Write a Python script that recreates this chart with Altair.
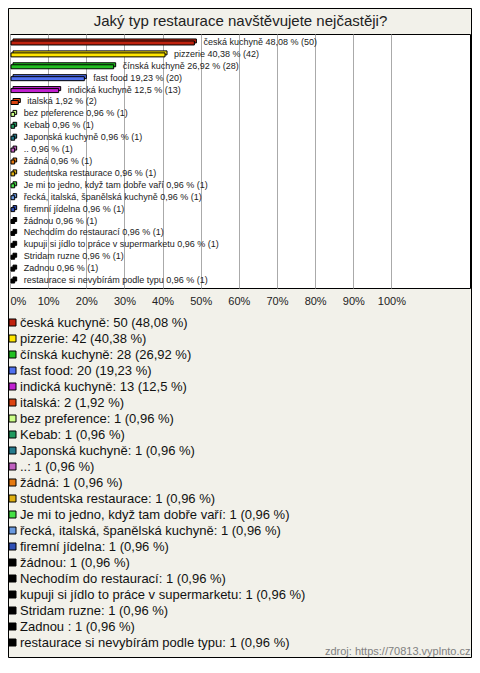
import altair as alt
import pandas as pd

title_text = "Jaký typ restaurace navštěvujete nejčastěji?"
source_text = "zdroj: https://70813.vyplnto.cz"

categories = [
    "česká kuchyně", "pizzerie", "čínská kuchyně", "fast food", "indická kuchyně",
    "italská", "bez preference", "Kebab", "Japonská kuchyně", "..", "žádná",
    "studentska restaurace", "Je mi to jedno, když tam dobře vaří",
    "řecká, italská, španělská kuchyně", "firemní jídelna", "žádnou",
    "Nechodím do restaurací", "kupuji si jídlo to práce v supermarketu",
    "Stridam ruzne", "Zadnou ", "restaurace si nevybírám podle typu",
]
counts = [50, 42, 28, 20, 13, 2, 1, 1, 1, 1, 1, 1, 1, 1, 1, 1, 1, 1, 1, 1, 1]
percents = [48.08, 40.38, 26.92, 19.23, 12.5, 1.92, 0.96, 0.96, 0.96, 0.96, 0.96,
            0.96, 0.96, 0.96, 0.96, 0.96, 0.96, 0.96, 0.96, 0.96, 0.96]
colors = [
    "#c0220e", "#ffe600", "#22c022", "#4f70f0", "#c020d0", "#dd4411", "#ccff88",
    "#20995e", "#237a8c", "#c060c0", "#e67a10", "#e0b010", "#44e044", "#6a9ae0",
    "#2f4fb5", "#000000", "#000000", "#000000", "#000000", "#000000", "#000000",
]
tick_values = [0, 10, 20, 30, 40, 50, 60, 70, 80, 90, 100]


def fmt(p):
    return f"{p:g}".replace(".", ",")


bar_labels = [f"{c} {fmt(p)} % ({n})" for c, p, n in zip(categories, percents, counts)]
legend_labels = [f"{c}: {n} ({fmt(p)} %)" for c, p, n in zip(categories, percents, counts)]

df = pd.DataFrame({
    "category": categories,
    "pct": percents,
    "bar_label": bar_labels,
    "legend": legend_labels,
})

xscale = alt.Scale(domain=[0, 120.6], nice=False, zero=True)

bottom_axis = alt.Axis(
    orient="bottom",
    values=tick_values,
    labelExpr="datum.value + '%'",
    grid=True,
    gridColor="#aaaaaa",
    gridWidth=1,
    ticks=False,
    domain=False,
    labelFlush=True,
    labelFontSize=11,
    labelColor="#222222",
    labelPadding=7,
    title=source_text,
    titleFontSize=11,
    titleFontWeight="normal",
    titleColor="#808080",
    titleX=460,
    titleY=366,
    titleAlign="right",
    titleAnchor="end",
    titleBaseline="alphabetic",
)
top_axis = alt.Axis(
    orient="top",
    labels=False,
    ticks=False,
    domain=False,
    grid=False,
    title=title_text,
    titleFontSize=15,
    titleFontWeight="normal",
    titleColor="#222222",
    titleX=230,
    titleY=-9,
    titleAlign="center",
    titleAnchor="middle",
    titleBaseline="alphabetic",
)

y = alt.Y(
    "category:N",
    sort=categories,
    axis=None,
    scale=alt.Scale(paddingInner=0, paddingOuter=0.17),
)
color = alt.Color(
    "legend:N",
    scale=alt.Scale(domain=legend_labels, range=colors),
    legend=alt.Legend(
        title=None,
        orient="none",
        legendX=-4,
        legendY=282,
        direction="vertical",
        symbolType="square",
        symbolSize=49,
        symbolStrokeColor="black",
        symbolStrokeWidth=1,
        symbolOpacity=1,
        labelFontSize=13,
        labelLimit=0,
        labelColor="#111111",
        labelOffset=1,
        rowPadding=2,
        padding=0,
    ),
)

base = alt.Chart(df)
back = base.mark_bar(size=4, stroke="black", strokeWidth=1, xOffset=3, yOffset=-1, opacity=1).encode(
    x=alt.X("pct:Q", scale=xscale, axis=bottom_axis), y=y, color=color
)
front = base.mark_bar(size=4, stroke="black", strokeWidth=1, xOffset=1, yOffset=1, opacity=1).encode(
    x=alt.X("pct:Q", scale=xscale, axis=None), y=y, color=color
)
labels = base.mark_text(align="left", baseline="middle", dx=10, fontSize=9, color="#222222").encode(
    x=alt.X("pct:Q", scale=xscale, axis=top_axis), y=y, text="bar_label:N"
)
frame = alt.Chart(pd.DataFrame({"f": [0]})).mark_rect(
    fillOpacity=0, stroke="black", strokeWidth=1
).encode(
    x=alt.value(-1.5), x2=alt.value(461.5), y=alt.value(-25.5), y2=alt.value(623.5)
)

chart = (
    alt.layer(back, front, labels, frame)
    .resolve_axis(x="independent")
    .properties(
        width=460,
        height=254,
        padding={"left": 2, "top": 26, "right": 2, "bottom": 370},
        autosize=alt.AutoSizeParams(type="none"),
        background="#f2f1ea",
    )
    .configure(font="Liberation Sans")
    .configure_view(fill="white", stroke="black", strokeWidth=1)
)

chart.save("out.html", embed_options={"renderer": "svg", "actions": False})
